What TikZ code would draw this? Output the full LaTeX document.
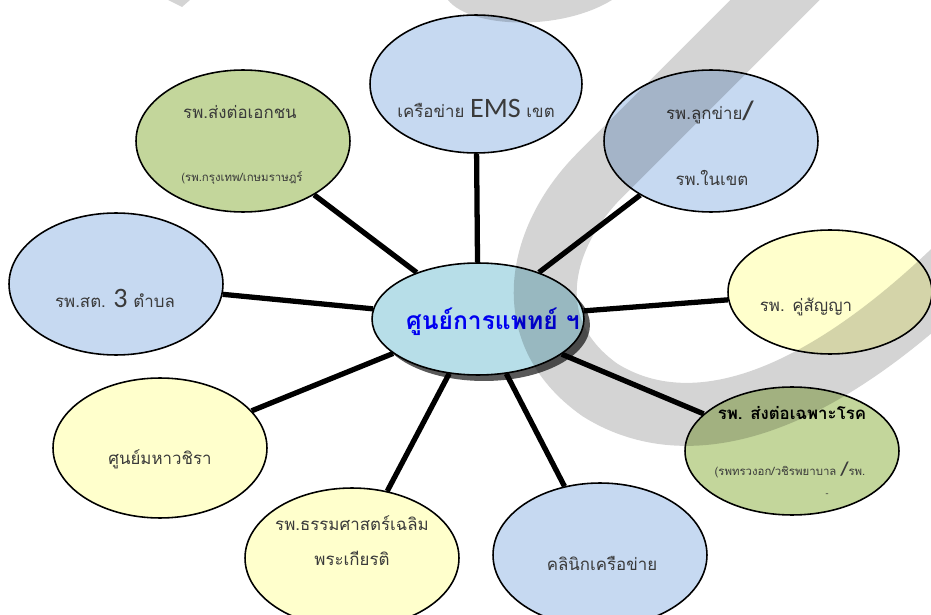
\documentclass[tikz,border=0pt]{standalone}
\usepackage{fontspec}
\setmainfont{Loma}[Script=Thai]
\newfontfamily\latinfont{Carlito}
\usetikzlibrary{shapes.geometric,shadows}

\definecolor{hubfill}{HTML}{B7DEE8}
\definecolor{bluefill}{HTML}{C6D9F1}
\definecolor{yellowfill}{HTML}{FFFFCC}
\definecolor{greenfill}{HTML}{C3D69B}
\definecolor{txtgray}{HTML}{3A3A3A}
\definecolor{hubblue}{HTML}{0000F0}

\begin{document}
\begin{tikzpicture}[x=0.02cm, y=-0.02cm,
    bubble/.style={draw, ellipse, line width=0.9pt, inner sep=0pt, minimum width=4.28cm, minimum height=2.84cm},
    spoke/.style={line width=3pt},
    txt/.style={text=txtgray, inner sep=0pt, font=\fontsize{9.6}{11}\selectfont},
    small/.style={text=txtgray, inner sep=0pt, font=\fontsize{6.5}{7}\selectfont},
    wash/.style={draw=black, draw opacity=0.17, line width=1.26cm},
    washfill/.style={fill=black, fill opacity=0.17}]

    \useasboundingbox (0,0) rectangle (931,615);
    \clip (0,0) rectangle (931,615);

    % Centre
    \node[bubble, fill=hubfill, minimum width=4.24cm, minimum height=2.24cm,
          drop shadow={shadow xshift=0.12cm, shadow yshift=-0.12cm, fill=black!65, opacity=1}] (hub) at (478,319) {};

    % Outer ellipses
    \node[bubble, fill=bluefill, minimum width=4.24cm, minimum height=2.76cm] (ems) at (476,84) {};
    \node[bubble, fill=bluefill] (luk) at (711,141) {};
    \node[bubble, fill=greenfill] (ekachon) at (243,141) {};
    \node[bubble, fill=bluefill] (sot) at (116,284) {};
    \node[bubble, fill=yellowfill, minimum width=4.08cm, minimum height=2.48cm] (khu) at (830,292) {};
    \node[bubble, fill=greenfill, minimum height=2.56cm] (rok) at (792,451) {};
    \node[bubble, fill=yellowfill, minimum height=2.8cm] (vachira) at (160,448) {};
    \node[bubble, fill=yellowfill, minimum height=2.8cm] (thammasat) at (352,558) {};
    \node[bubble, fill=bluefill, minimum height=2.88cm] (klinik) at (600,555) {};

    % Spokes
    \foreach \n in {ems,luk,ekachon,sot,khu,rok,vachira,thammasat,klinik}
        \draw[spoke] (hub) -- (\n);

    % Texts
    \node[text=hubblue, inner sep=0pt, font=\fontsize{14}{16}\selectfont\bfseries] (hubT) at (493,322) {ศูนย์การแพทย์ ฯ};
    \node[txt] (emsT) at (476,108) {เครือข่าย {\latinfont\fontsize{16}{17}\selectfont EMS} เขต};
    \node[txt] (lukA) at (710,112) {รพ.ลูกข่าย{\latinfont\bfseries\fontsize{15}{16}\selectfont/}};
    \node[txt] (lukB) at (712,178) {รพ.ในเขต};
    \node[txt] (ekachonA) at (240,112) {รพ.ส่งต่อเอกชน};
    \node[small] (ekachonB) at (242,178) {(รพ.กรุงเทพ/เกษมราษฎร์};
    \node[txt] (sotT) at (115,298) {รพ.สต. {\latinfont\fontsize{16}{17}\selectfont 3} ตำบล};
    \node[txt] (khuT) at (806,307) {รพ. คู่สัญญา};
    \node[txt, text=black, font=\fontsize{9.6}{11}\selectfont\bfseries] (rokA) at (792,413) {รพ. ส่งต่อเฉพาะโรค};
    \node[small] (rokB) at (790,470) {(รพทรวงอก/วชิรพยาบาล {\latinfont\bfseries\fontsize{11}{12}\selectfont/}รพ.};
    \node[small, font=\tiny] (rokC) at (827,495) {-};
    \node[txt] (vachiraT) at (160,459) {ศูนย์มหาวชิรา};
    \node[txt] (thammasatA) at (352,523) {รพ.ธรรมศาสตร์เฉลิม};
    \node[txt] (thammasatB) at (352,558) {พระเกียรติ};
    \node[txt] (klinikT) at (602,563) {คลินิกเครือข่าย};

    % Watermark
    \draw[wash] (800,-25) -- (600,175) .. controls (540,235) and (515,330) .. (600,390)
        .. controls (680,440) and (800,420) .. (960,265);
    \fill[washfill] (448,0) .. controls (470,28) and (560,32) .. (612,0) -- cycle;
    \fill[washfill] (168,0) -- (182,7) -- (190,0) -- cycle;
\end{tikzpicture}
\end{document}
